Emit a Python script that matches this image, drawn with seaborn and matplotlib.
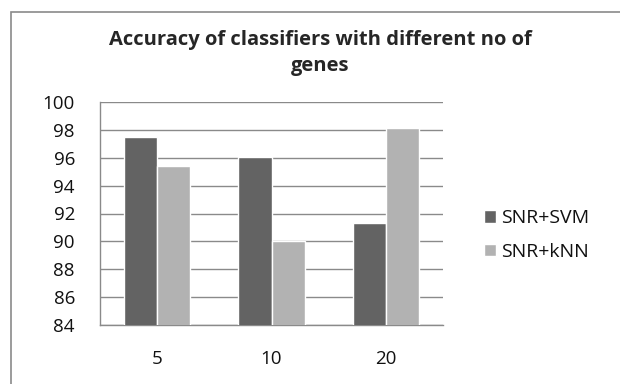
import pandas as pd
import matplotlib.pyplot as plt
import seaborn as sns
from matplotlib.patches import Rectangle

# values
genes = ["5", "10", "20"]
svm_acc = [97.5, 96.05, 91.35]
knn_acc = [95.4, 90.0, 98.1]
series = ["SNR+SVM", "SNR+kNN"]
yticks = [84, 86, 88, 90, 92, 94, 96, 98, 100]

df = pd.DataFrame({
    "genes": genes * 2,
    "acc": svm_acc + knn_acc,
    "method": [series[0]] * 3 + [series[1]] * 3,
})

sns.set_style("white")
plt.rcParams['font.family'] = ['Open Sans', 'DejaVu Sans']

fig = plt.figure(figsize=(6.2, 3.84), dpi=100)
ax = fig.add_axes([100 / 620, 1 - 325 / 384, 343 / 620, 223 / 384])

sns.barplot(data=df, x="genes", y="acc", hue="method", order=genes,
            palette=["#636363", "#b2b2b2"], width=0.58, saturation=1,
            ax=ax, zorder=3)

ax.set_ylim(84, 100)
ax.set_yticks(yticks)
ax.yaxis.grid(True, color="#8a8a8a", linewidth=1)
ax.set_axisbelow(True)
ax.set_xlabel("")
ax.set_ylabel("")
for s in ["top", "right"]:
    ax.spines[s].set_visible(False)
for s in ["left", "bottom"]:
    ax.spines[s].set_color("#8a8a8a")
    ax.spines[s].set_linewidth(1)
ax.tick_params(axis="y", length=0, pad=18, labelsize=13.5, colors="#111111")
ax.tick_params(axis="x", length=0, pad=18, labelsize=13.5, colors="#111111")

ax.legend_.remove()
handles, labels = ax.get_legend_handles_labels()
fig.legend(handles, labels, loc="center left", bbox_to_anchor=(484 / 620, 1 - 235 / 384),
           frameon=False, fontsize=14, handlelength=0.62, handleheight=0.62,
           handletextpad=0.25, labelspacing=0.8, labelcolor="#111111",
           borderpad=0, borderaxespad=0)

fig.text(0.516, 1 - 53 / 384, "Accuracy of classifiers with different no of\ngenes",
         ha="center", va="center", fontsize=14.5, fontweight="bold", linespacing=1.4)

# outer chart frame like the spreadsheet chart area
fig.patches.append(Rectangle((11 / 620, -0.05), 1.2, 1 - 12 / 384 + 0.05,
                             transform=fig.transFigure, fill=False,
                             edgecolor="#8a8a8a", linewidth=1.2))

fig.savefig("out.png", dpi=100)
